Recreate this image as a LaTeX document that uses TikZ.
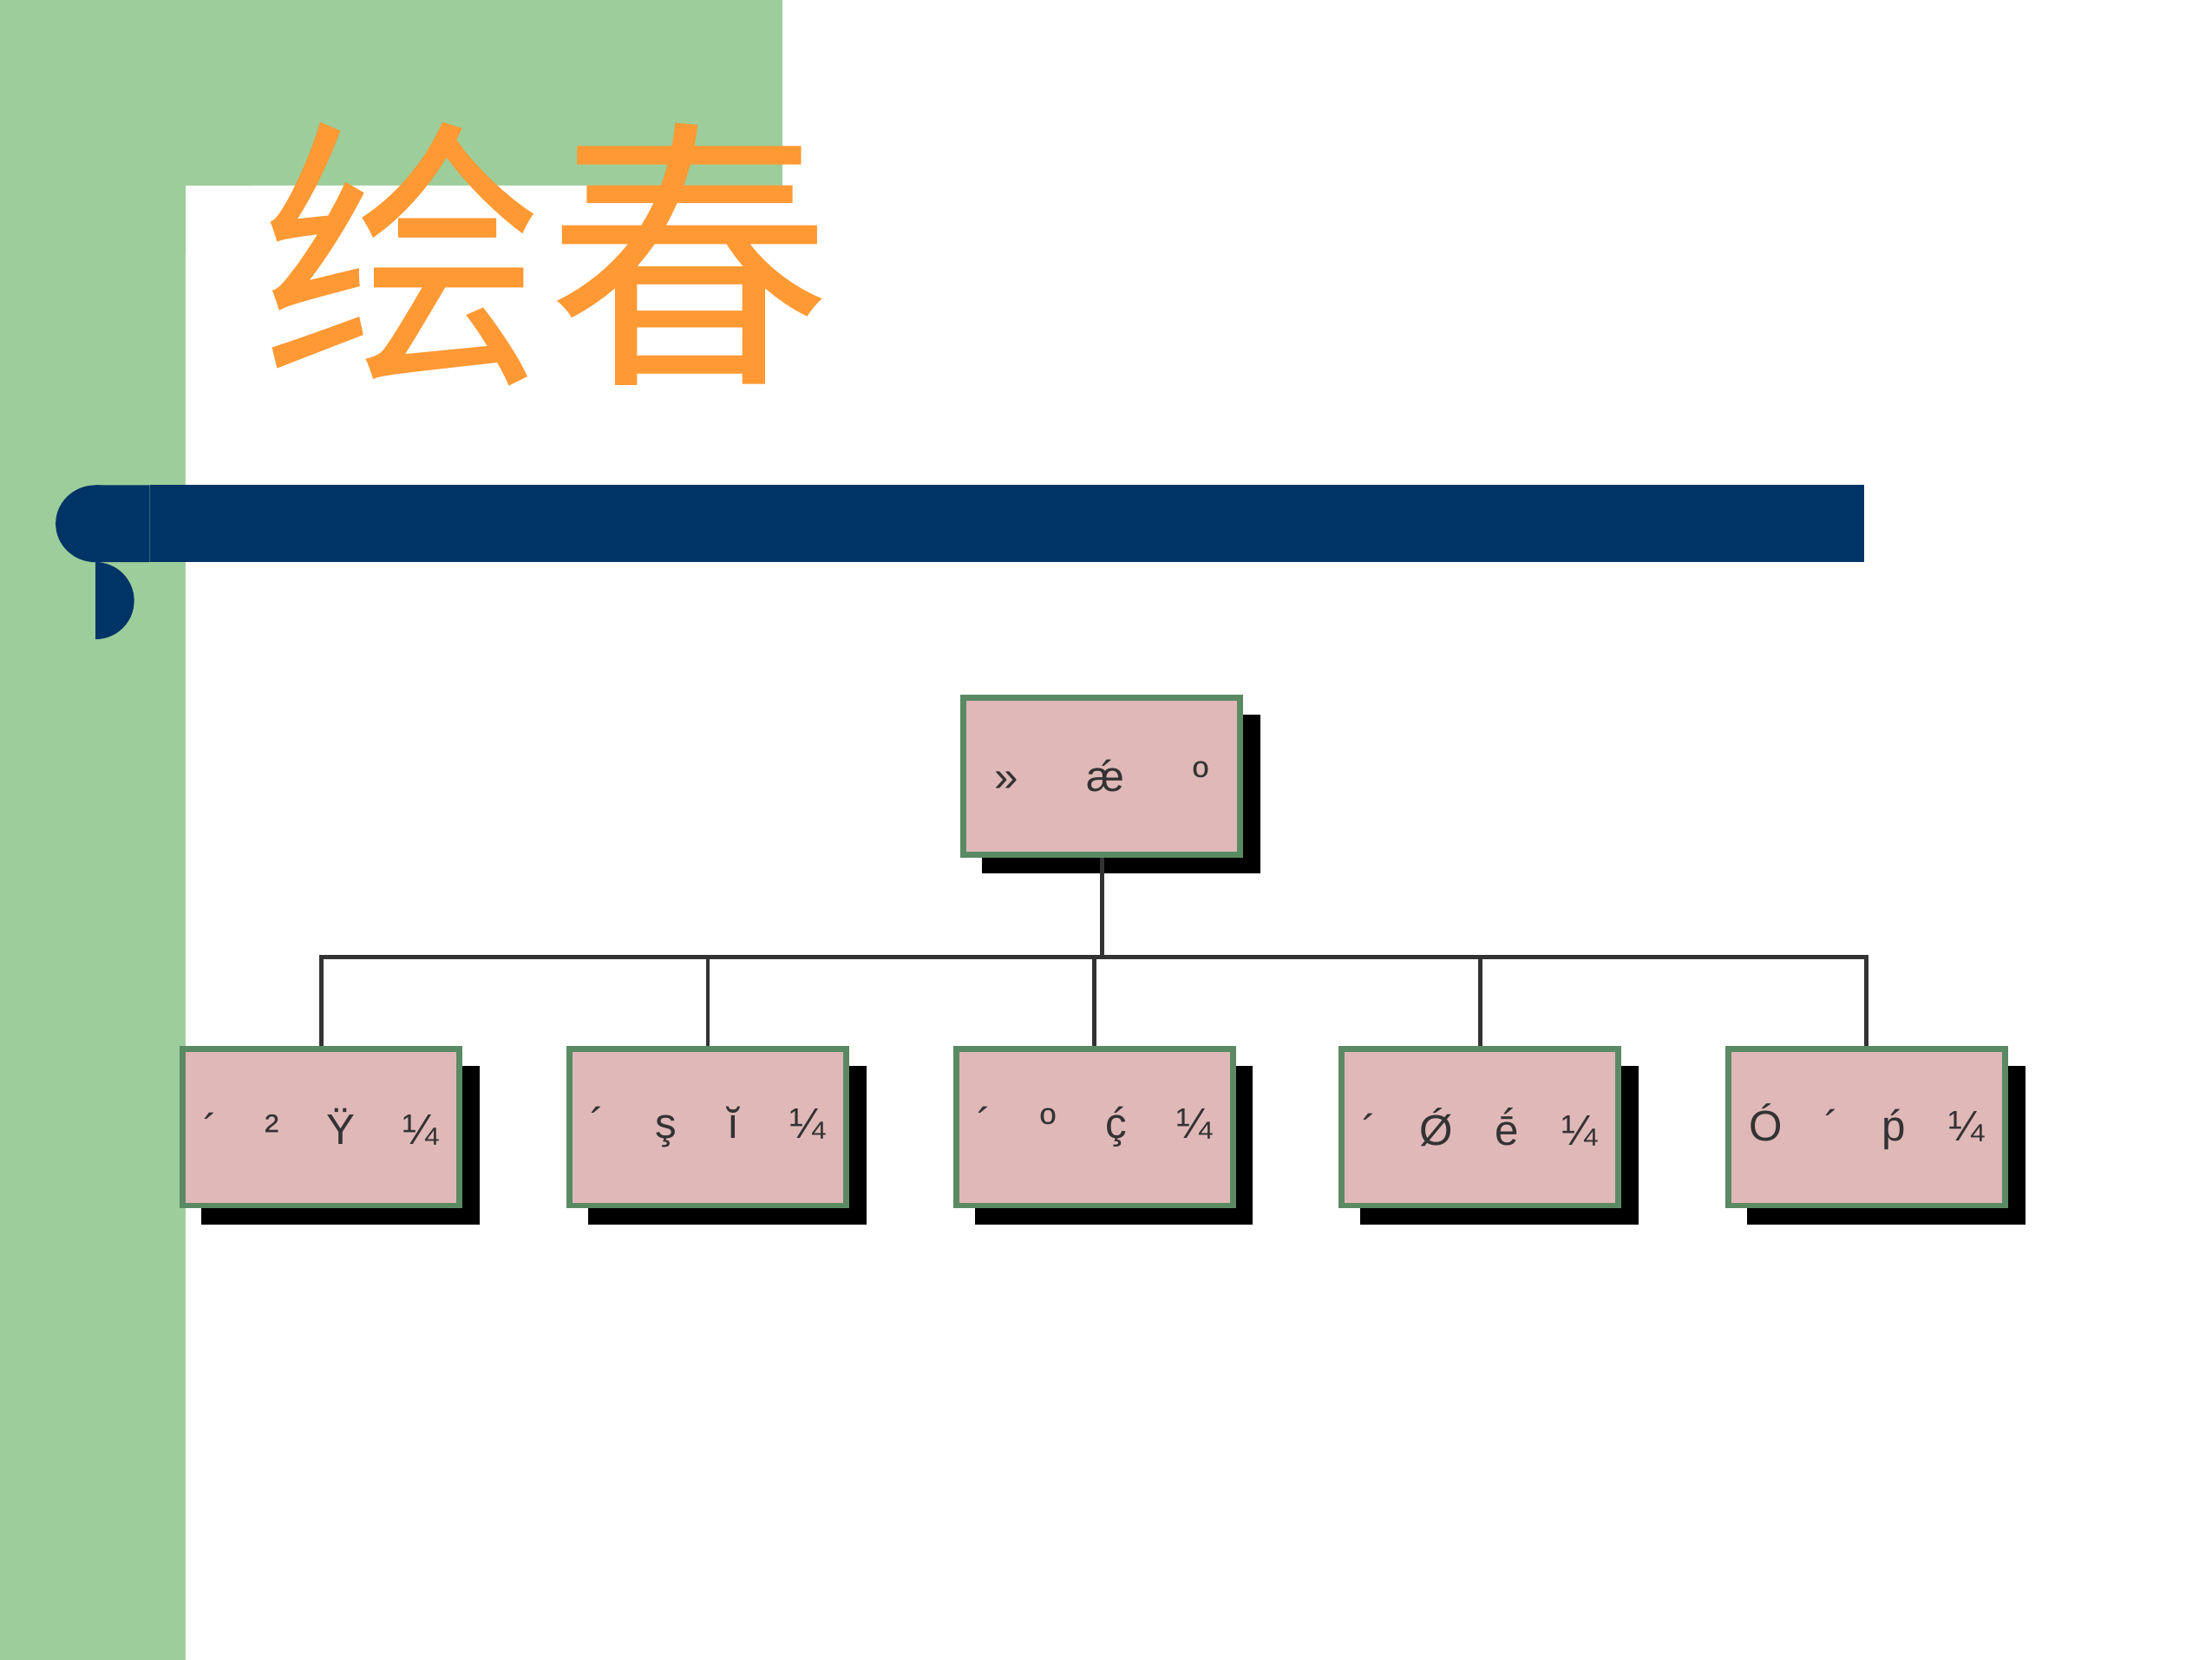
\documentclass[tikz,border=0pt]{standalone}
\usepackage{fontspec}
\setmainfont{Liberation Sans}
\newfontfamily\cjk{Noto Sans CJK SC}
\definecolor{gr}{HTML}{9CCD9A}
\definecolor{navy}{HTML}{003366}
\definecolor{orng}{HTML}{FF9933}
\definecolor{pinkf}{HTML}{E0B8B8}
\definecolor{bord}{HTML}{5A8A64}
\definecolor{ln}{HTML}{333333}
\begin{document}
\begin{tikzpicture}[x=1pt,y=-1pt,
  bx/.style={draw=bord,line width=4pt,fill=pinkf,minimum width=194pt,minimum height=110pt,inner sep=0pt,font=\fontsize{30}{30}\selectfont,text=ln},
  conn/.style={draw=ln,line width=3pt}]
\useasboundingbox (0,0) rectangle (1550,1163);
\fill[white] (0,0) rectangle (1550,1163);
\fill[gr] (0,0) rectangle (548,130);
\fill[gr] (0,0) rectangle (130,1175);
\fill[white] (130,1175) -- (130,180) arc[start angle=180,end angle=270,radius=50] -- (1550,130) -- (1550,1175) -- cycle;
\node[text=orng,font=\cjk\fontsize{200}{200}\selectfont] (title) at (383,178) {绘春};
\fill[navy] (105,340) rectangle (1306,394);
\fill[navy] (67,340) -- (105,340) -- (105,394) -- (67,394) arc[start angle=90,end angle=270,radius=-27];
\fill[navy] (67,367) ellipse[x radius=28,y radius=27];
% shadows
\foreach \x/\y in {772/544,225/790,496/790,767/790,1037/790,1308/790}
  \fill[black] (\x-84,\y-43) rectangle (\x+111,\y+68);
\node[bx] (top) at (772,544) {\makebox[150pt]{»\hfill \'æ\hfill º}};
\node[bx] (c1) at (225,790) {\makebox[165pt]{´\hfill ²\hfill Ÿ\hfill ¼}};
\node[bx] (c2) at (496,790) {\makebox[165pt]{´\hfill ş\hfill ĭ\hfill ¼}};
\node[bx] (c3) at (767,790) {\makebox[165pt]{´\hfill º\hfill ḉ\hfill ¼}};
\node[bx] (c4) at (1037,790) {\makebox[165pt]{´\hfill Ǿ\hfill ḗ\hfill ¼}};
\node[bx] (c5) at (1308,790) {\makebox[165pt]{Ó\hfill ´\hfill ṕ\hfill ¼}};
\coordinate (j) at (772,671);
\draw[conn] (top.south) -- (j);
\draw[conn] (c1.north) |- (j) -| (c5.north);
\foreach \c in {c2,c3,c4} \draw[conn] (\c.north) -- (\c.north |- j);
\end{tikzpicture}
\end{document}
